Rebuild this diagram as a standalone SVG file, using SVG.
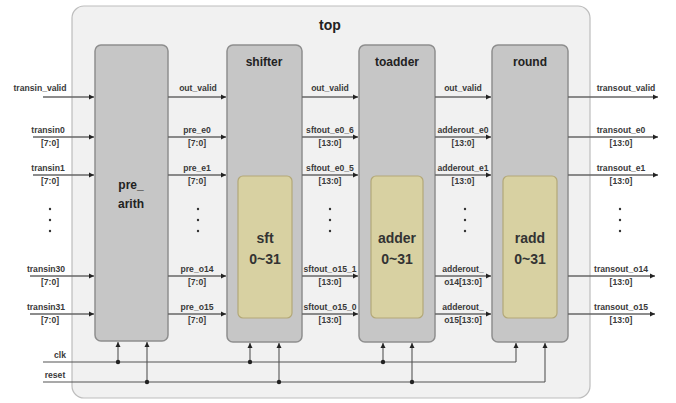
<svg xmlns="http://www.w3.org/2000/svg" width="676" height="403" viewBox="0 0 676 403">
<defs>
<style>
.lbl{font-family:"Liberation Sans",Arial,sans-serif;font-size:8.6px;font-weight:bold;fill:#3a3a3a;text-anchor:middle}
.ttl{font-family:"Liberation Sans",Arial,sans-serif;font-size:12px;font-weight:bold;fill:#222;text-anchor:middle}
.big{font-family:"Liberation Sans",Arial,sans-serif;font-size:14px;font-weight:bold;fill:#333;text-anchor:middle}
.blk{fill:#c6c6c6;stroke:#8e8e8e;stroke-width:1.5}
.inn{fill:#d8d1a2;stroke:#b3a878;stroke-width:1.2}
.sig{stroke:#666;stroke-width:1.3;fill:none}
.ctl{stroke:#555;stroke-width:1.1;fill:none}
.dot{fill:#222}
</style>
<marker id="ah" markerWidth="6" markerHeight="6" refX="5" refY="3" orient="auto" markerUnits="userSpaceOnUse">
<path d="M0,0.5 L5,3 L0,5.5 Z" fill="#222"/>
</marker>
</defs>
<g id="top">
<rect x="72" y="6" width="518" height="392" rx="12" fill="#f1f1f1" stroke="#bdbdbd" stroke-width="1.2"/>
<text class="ttl" x="330" y="30" style="font-size:14px">top</text>
</g>
<g id="pre_arith">
<rect class="blk" x="95" y="45" width="73" height="296" rx="6"/>
<text class="ttl" x="131" y="189">pre_</text>
<text class="ttl" x="131" y="208">arith</text>
</g>
<g id="shifter">
<rect class="blk" x="227" y="45" width="75" height="297" rx="6"/>
<text class="ttl" x="264" y="66">shifter</text>
<g id="sft">
<rect class="inn" x="238" y="176" width="54" height="142" rx="5"/>
<text class="big" x="265" y="243">sft</text>
<text class="big" x="265" y="264">0~31</text>
</g>
</g>
<g id="toadder">
<rect class="blk" x="359" y="45" width="76" height="297" rx="6"/>
<text class="ttl" x="397" y="66">toadder</text>
<g id="adder">
<rect class="inn" x="371" y="176" width="52" height="142" rx="5"/>
<text class="big" x="397" y="243">adder</text>
<text class="big" x="397" y="264">0~31</text>
</g>
</g>
<g id="round">
<rect class="blk" x="492" y="45" width="76" height="297" rx="6"/>
<text class="ttl" x="530" y="66">round</text>
<g id="radd">
<rect class="inn" x="503" y="176" width="54" height="142" rx="5"/>
<text class="big" x="530" y="243">radd</text>
<text class="big" x="530" y="264">0~31</text>
</g>
</g>
<g id="connectors">
<line class="sig" x1="43" y1="97" x2="94" y2="97" marker-end="url(#ah)"/>
<line class="sig" x1="33" y1="137" x2="94" y2="137" marker-end="url(#ah)"/>
<line class="sig" x1="33" y1="175" x2="94" y2="175" marker-end="url(#ah)"/>
<line class="sig" x1="30" y1="276" x2="94" y2="276" marker-end="url(#ah)"/>
<line class="sig" x1="30" y1="314" x2="94" y2="314" marker-end="url(#ah)"/>
<line class="sig" x1="168" y1="97" x2="226" y2="97" marker-end="url(#ah)"/>
<line class="sig" x1="168" y1="137" x2="226" y2="137" marker-end="url(#ah)"/>
<line class="sig" x1="168" y1="175" x2="226" y2="175" marker-end="url(#ah)"/>
<line class="sig" x1="168" y1="276" x2="226" y2="276" marker-end="url(#ah)"/>
<line class="sig" x1="168" y1="314" x2="226" y2="314" marker-end="url(#ah)"/>
<line class="sig" x1="302" y1="97" x2="358" y2="97" marker-end="url(#ah)"/>
<line class="sig" x1="302" y1="137" x2="358" y2="137" marker-end="url(#ah)"/>
<line class="sig" x1="302" y1="175" x2="358" y2="175" marker-end="url(#ah)"/>
<line class="sig" x1="302" y1="276" x2="358" y2="276" marker-end="url(#ah)"/>
<line class="sig" x1="302" y1="314" x2="358" y2="314" marker-end="url(#ah)"/>
<line class="sig" x1="435" y1="97" x2="491" y2="97" marker-end="url(#ah)"/>
<line class="sig" x1="435" y1="137" x2="491" y2="137" marker-end="url(#ah)"/>
<line class="sig" x1="435" y1="175" x2="491" y2="175" marker-end="url(#ah)"/>
<line class="sig" x1="435" y1="276" x2="491" y2="276" marker-end="url(#ah)"/>
<line class="sig" x1="435" y1="314" x2="491" y2="314" marker-end="url(#ah)"/>
<line class="sig" x1="568" y1="97" x2="658" y2="97" marker-end="url(#ah)"/>
<line class="sig" x1="568" y1="137" x2="658" y2="137" marker-end="url(#ah)"/>
<line class="sig" x1="568" y1="175" x2="658" y2="175" marker-end="url(#ah)"/>
<line class="sig" x1="568" y1="276" x2="655" y2="276" marker-end="url(#ah)"/>
<line class="sig" x1="568" y1="314" x2="655" y2="314" marker-end="url(#ah)"/>
<line class="ctl" x1="43" y1="362" x2="516" y2="362"/>
<line class="ctl" x1="43" y1="382" x2="545" y2="382"/>
<line class="ctl" x1="118" y1="362" x2="118" y2="342" marker-end="url(#ah)"/>
<line class="ctl" x1="147" y1="382" x2="147" y2="342" marker-end="url(#ah)"/>
<line class="ctl" x1="250" y1="362" x2="250" y2="343" marker-end="url(#ah)"/>
<line class="ctl" x1="279" y1="382" x2="279" y2="343" marker-end="url(#ah)"/>
<line class="ctl" x1="383" y1="362" x2="383" y2="343" marker-end="url(#ah)"/>
<line class="ctl" x1="412" y1="382" x2="412" y2="343" marker-end="url(#ah)"/>
<line class="ctl" x1="516" y1="362" x2="516" y2="343" marker-end="url(#ah)"/>
<line class="ctl" x1="545" y1="382" x2="545" y2="343" marker-end="url(#ah)"/>
<circle class="dot" cx="118" cy="362" r="2.2"/>
<circle class="dot" cx="147" cy="382" r="2.2"/>
<circle class="dot" cx="250" cy="362" r="2.2"/>
<circle class="dot" cx="279" cy="382" r="2.2"/>
<circle class="dot" cx="383" cy="362" r="2.2"/>
<circle class="dot" cx="412" cy="382" r="2.2"/>
</g>
<g id="labels">
<text class="lbl" x="40" y="91">transin_valid</text>
<text class="lbl" x="48" y="133">transin0</text><text class="lbl" x="50" y="146">[7:0]</text>
<text class="lbl" x="48" y="171">transin1</text><text class="lbl" x="50" y="184">[7:0]</text>
<text class="lbl" x="46" y="272">transin30</text><text class="lbl" x="50" y="285">[7:0]</text>
<text class="lbl" x="46" y="310">transin31</text><text class="lbl" x="50" y="323">[7:0]</text>
<text class="lbl" x="60" y="358">clk</text>
<text class="lbl" x="55" y="378">reset</text>
<text class="lbl" x="198" y="91">out_valid</text>
<text class="lbl" x="197" y="133">pre_e0</text><text class="lbl" x="197" y="146">[7:0]</text>
<text class="lbl" x="197" y="171">pre_e1</text><text class="lbl" x="197" y="184">[7:0]</text>
<text class="lbl" x="197" y="272">pre_o14</text><text class="lbl" x="197" y="285">[7:0]</text>
<text class="lbl" x="197" y="310">pre_o15</text><text class="lbl" x="197" y="323">[7:0]</text>
<text class="lbl" x="330" y="91">out_valid</text>
<text class="lbl" x="330" y="133">sftout_e0_6</text><text class="lbl" x="330" y="146">[13:0]</text>
<text class="lbl" x="330" y="171">sftout_e0_5</text><text class="lbl" x="330" y="184">[13:0]</text>
<text class="lbl" x="330" y="272">sftout_o15_1</text><text class="lbl" x="330" y="285">[13:0]</text>
<text class="lbl" x="330" y="310">sftout_o15_0</text><text class="lbl" x="330" y="323">[13:0]</text>
<text class="lbl" x="463" y="91">out_valid</text>
<text class="lbl" x="463" y="133">adderout_e0</text><text class="lbl" x="463" y="146">[13:0]</text>
<text class="lbl" x="463" y="171">adderout_e1</text><text class="lbl" x="463" y="184">[13:0]</text>
<text class="lbl" x="463" y="272">adderout_</text><text class="lbl" x="463" y="285">o14[13:0]</text>
<text class="lbl" x="463" y="310">adderout_</text><text class="lbl" x="463" y="323">o15[13:0]</text>
<text class="lbl" x="626" y="91">transout_valid</text>
<text class="lbl" x="621" y="133">transout_e0</text><text class="lbl" x="621" y="146">[13:0]</text>
<text class="lbl" x="621" y="171">transout_e1</text><text class="lbl" x="621" y="184">[13:0]</text>
<text class="lbl" x="621" y="272">transout_o14</text><text class="lbl" x="621" y="285">[13:0]</text>
<text class="lbl" x="621" y="310">transout_o15</text><text class="lbl" x="621" y="323">[13:0]</text>
</g>
<g id="ellipses" fill="#333">
<circle cx="50" cy="209" r="1.2"/><circle cx="50" cy="220" r="1.2"/><circle cx="50" cy="231" r="1.2"/>
<circle cx="198" cy="209" r="1.2"/><circle cx="198" cy="220" r="1.2"/><circle cx="198" cy="231" r="1.2"/>
<circle cx="330" cy="209" r="1.2"/><circle cx="330" cy="220" r="1.2"/><circle cx="330" cy="231" r="1.2"/>
<circle cx="465" cy="209" r="1.2"/><circle cx="465" cy="220" r="1.2"/><circle cx="465" cy="231" r="1.2"/>
<circle cx="620" cy="209" r="1.2"/><circle cx="620" cy="220" r="1.2"/><circle cx="620" cy="231" r="1.2"/>
</g>
</svg>
